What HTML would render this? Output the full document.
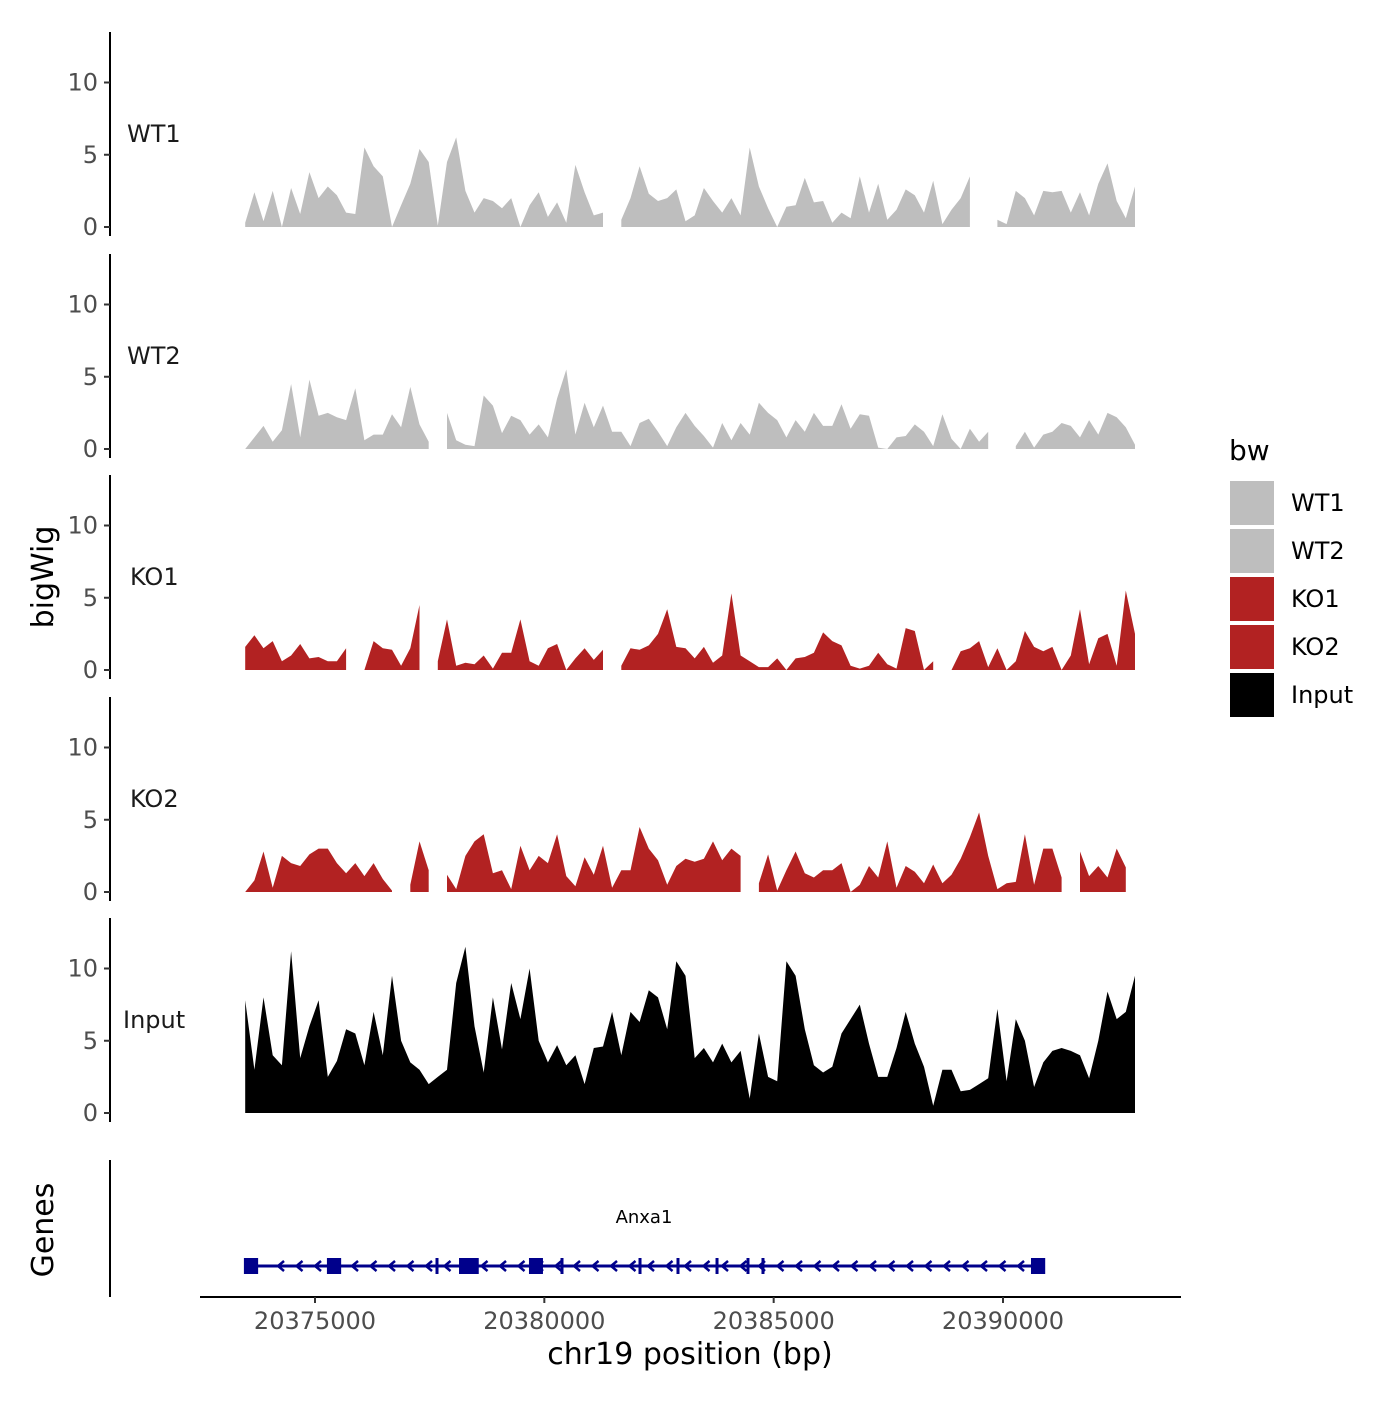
<!DOCTYPE html>
<html><head><meta charset="utf-8"><style>
body{margin:0;background:#fff;}
svg text{font-family:"DejaVu Sans","Liberation Sans",sans-serif;}
</style></head><body>
<svg id="chart" width="1400" height="1400" xmlns="http://www.w3.org/2000/svg">
<rect width="1400" height="1400" fill="#fff"/>
<g id="tracks"></g>
<g id="genes"></g>
<g id="xaxis"></g>
<text x="0" y="0" transform="translate(53,577) rotate(-90)" text-anchor="middle" font-size="30">bigWig</text>
<text x="0" y="0" transform="translate(53,1230) rotate(-90)" text-anchor="middle" font-size="30">Genes</text>
<text x="690" y="1364" text-anchor="middle" font-size="30">chr19 position (bp)</text>
<g id="legend">
<text x="1229" y="460" font-size="28">bw</text>
</g>
</svg>
<script>
const trackNames = ["WT1","WT2","KO1","KO2","Input"];
const trackColors = ["#BEBEBE","#BEBEBE","#B22222","#B22222","#000000"];
const binStart = 20373478;
const binStep = 200;
const wt1 = [0.3,2.4,0.4,2.5,0,2.7,0.9,3.8,2.0,2.8,2.2,1.0,0.9,5.5,4.2,3.5,0,1.5,3.0,5.4,4.5,0.1,4.5,6.2,2.5,1.0,2.0,1.8,1.3,2.0,0,1.5,2.4,0.7,1.7,0.3,4.3,2.4,0.8,1.0,null,0.5,2.0,4.2,2.3,1.8,2.0,2.6,0.4,0.8,2.7,1.8,1.0,2.0,0.8,5.5,2.8,1.3,0,1.4,1.5,3.4,1.7,1.8,0.3,1.0,0.6,3.5,1.0,3.0,0.5,1.2,2.6,2.2,1.0,3.2,0.2,1.2,2.0,3.5,null,null,0.5,0.2,2.5,2.0,0.8,2.5,2.4,2.5,1.0,2.4,0.8,3.0,4.4,1.8,0.6,2.8];
const wt2 = [0,0.8,1.6,0.5,1.3,4.5,0.8,4.8,2.3,2.5,2.2,2.0,4.2,0.6,1.0,1.0,2.4,1.5,4.3,1.7,0.5,null,2.5,0.6,0.3,0.2,3.7,3.0,1.1,2.3,2.0,1.0,1.7,0.8,3.5,5.5,1.0,3.2,1.5,3.0,1.2,1.2,0.2,1.8,2.1,1.2,0.2,1.5,2.5,1.6,0.9,0.1,1.8,0.6,1.8,1.0,3.2,2.5,2.0,0.8,2.0,1.2,2.5,1.6,1.6,3.1,1.4,2.4,2.3,0.1,0,0.8,0.9,1.7,1.2,0.2,2.4,0.7,0,1.4,0.5,1.2,null,null,0.2,1.2,0.1,1.0,1.2,1.8,1.6,0.8,2.0,1.0,2.5,2.2,1.5,0.3];
const ko1 = [1.6,2.4,1.5,2.0,0.6,1.0,1.8,0.8,0.9,0.6,0.6,1.5,null,0,2.0,1.5,1.4,0.3,1.5,4.5,null,0.6,3.5,0.3,0.5,0.4,1.0,0.1,1.2,1.2,3.5,0.6,0.3,1.5,1.8,0,0.8,1.5,0.7,1.4,null,0.3,1.5,1.4,1.7,2.5,4.2,1.6,1.5,0.8,1.6,0.5,1.0,5.3,1.0,0.6,0.2,0.2,0.8,0,0.8,0.9,1.2,2.6,2.0,1.7,0.3,0.1,0.3,1.2,0.4,0.1,2.9,2.7,0,0.6,null,0,1.3,1.5,2.0,0.2,1.5,0,0.6,2.7,1.6,1.3,1.6,0,1.0,4.2,0.4,2.2,2.5,0.3,5.5,2.5];
const ko2 = [0,0.8,2.8,0.3,2.5,2.0,1.8,2.6,3.0,3.0,2.0,1.3,2.0,1.1,2.0,0.9,0.1,null,0.5,3.5,1.5,null,1.2,0.2,2.5,3.5,4.0,1.3,1.5,0.2,3.2,1.5,2.5,2.0,4.0,1.1,0.4,2.4,1.2,3.2,0.3,1.5,1.5,4.5,3.0,2.2,0.5,1.8,2.3,2.1,2.3,3.5,2.2,3.0,2.5,null,0.6,2.6,0.1,1.5,2.8,1.3,1.0,1.5,1.5,2.0,0,0.5,1.8,1.0,3.5,0.3,1.8,1.4,0.6,1.9,0.6,1.2,2.3,3.8,5.5,2.5,0.2,0.6,0.7,4.0,0.5,3.0,3.0,1.0,null,2.8,1.1,1.8,1.0,3.0,1.7,null];
const input = [7.8,3.0,8.0,4.0,3.3,11.2,3.8,6.0,7.8,2.5,3.6,5.8,5.5,3.3,7.0,4.0,9.5,5.0,3.5,3.0,2.0,2.5,3.0,9.0,11.5,6.0,2.8,8.0,4.4,9.0,6.5,10.0,5.0,3.5,4.7,3.3,4.0,2.0,4.5,4.6,7.0,4.0,7.0,6.3,8.5,8.0,5.8,10.5,9.5,3.8,4.5,3.5,4.8,3.5,4.3,1.0,5.5,2.5,2.2,10.5,9.5,5.8,3.3,2.8,3.2,5.5,6.5,7.5,4.8,2.5,2.5,4.5,7.0,4.8,3.2,0.5,3.0,3.0,1.5,1.6,2.0,2.4,7.2,2.2,6.5,5.0,1.8,3.5,4.3,4.5,4.3,4.0,2.4,5.0,8.4,6.5,7.0,9.5];
const yTicks = [0,5,10];
const xTicks = [20375000,20380000,20385000,20390000];
const exonStarts = [20373450,20375260,20378140,20379665,20390610];
const exonEnds = [20373760,20375570,20378570,20379970,20390920];
const thinExons = [20377660,20380385,20382086,20382914,20383765,20384440,20384767];
const geneStart = 20373605, geneEnd = 20390763;
const geneName = "Anxa1";

const NS="http://www.w3.org/2000/svg";
function mk(tag,attrs,parent){const e=document.createElementNS(NS,tag);for(const k in attrs)e.setAttribute(k,attrs[k]);parent.appendChild(e);return e;}
const xScale = bp => 315 + (bp-20375000)*0.045867;
const zeros = [227,449,670,892,1113];
const yScale = (t,v) => zeros[t] - v*14.45;
const tracksG=document.getElementById('tracks');
const series=[wt1,wt2,ko1,ko2,input];
const labelX=[127,127,130,130,123];
series.forEach((vals,t)=>{
  const g=mk('g',{},tracksG);
  
  
  const ax=mk('line',{x1:110,x2:110,y1:zeros[t]-195,y2:zeros[t]+9,stroke:'#000','stroke-width':2},g);
  
  
  yTicks.forEach(v=>{
    const y=yScale(t,v);
    const tk=mk('line',{x1:104,x2:110,y1:y,y2:y,stroke:'#333','stroke-width':2},g);
    
    
    const tl=mk('text',{x:98,y:y+8,'text-anchor':'end','font-size':24,fill:'#4d4d4d'},g);
    tl.textContent=v;
    
    
  });
  const lab=mk('text',{x:labelX[t],y:zeros[t]-85,'font-size':24,fill:'#1a1a1a'},g);
  lab.textContent=trackNames[t];
  
  
  let seg=[];
  const segs=[];
  vals.forEach((v,i)=>{ if(v===null){ if(seg.length)segs.push(seg); seg=[]; } else seg.push([binStart+i*binStep,v]); });
  if(seg.length)segs.push(seg);
  segs.forEach(s=>{
    let d='M'+xScale(s[0][0]).toFixed(1)+','+zeros[t];
    s.forEach(p=>{d+='L'+xScale(p[0]).toFixed(1)+','+yScale(t,p[1]).toFixed(1);});
    d+='L'+xScale(s[s.length-1][0]).toFixed(1)+','+zeros[t]+'Z';
    const a=mk('path',{d:d,fill:trackColors[t]},g);
    
    
  });
});
const gg=document.getElementById('genes');
const gax=mk('line',{x1:110,x2:110,y1:1160,y2:1297,stroke:'#000','stroke-width':2},gg);


const gl=mk('line',{x1:xScale(geneStart),x2:xScale(geneEnd),y1:1266,y2:1266,stroke:'#00008B','stroke-width':3},gg);


for(let x=xScale(geneStart)+30;x<xScale(geneEnd)-5;x+=18.5){
  const c=mk('path',{d:`M${x+3},${1261}L${x-3},${1266}L${x+3},${1271}`,fill:'none',stroke:'#00008B','stroke-width':2.5},gg);
  
  
}
exonStarts.forEach((s,i)=>{
  const r=mk('rect',{x:xScale(s),y:1258,width:xScale(exonEnds[i])-xScale(s),height:16,fill:'#00008B'},gg);
  
  
});
thinExons.forEach(p=>{
  const r=mk('rect',{x:xScale(p)-1.5,y:1258,width:3,height:16,fill:'#00008B'},gg);
  
  
});
const gn=mk('text',{x:644,y:1223,'text-anchor':'middle','font-size':18,fill:'#000'},gg);
gn.textContent=geneName;


const xg=document.getElementById('xaxis');
const xl=mk('line',{x1:200,x2:1181,y1:1297,y2:1297,stroke:'#000','stroke-width':2},xg);


xTicks.forEach(v=>{
  const x=xScale(v);
  const t=mk('line',{x1:x,x2:x,y1:1297,y2:1303,stroke:'#333','stroke-width':2},xg);
  
  
  const tl=mk('text',{x:x,y:1329,'text-anchor':'middle','font-size':24,fill:'#4d4d4d'},xg);
  tl.textContent=v;
  
  
});
const lg=document.getElementById('legend');
trackNames.forEach((n,i)=>{
  const y=481+i*48;
  const r=mk('rect',{x:1230,y:y,width:44,height:44,fill:trackColors[i]},lg);
  
  
  const t=mk('text',{x:1291,y:y+30,'font-size':24,fill:'#000'},lg);
  t.textContent=n;
  
  
});
</script>
</body></html>
